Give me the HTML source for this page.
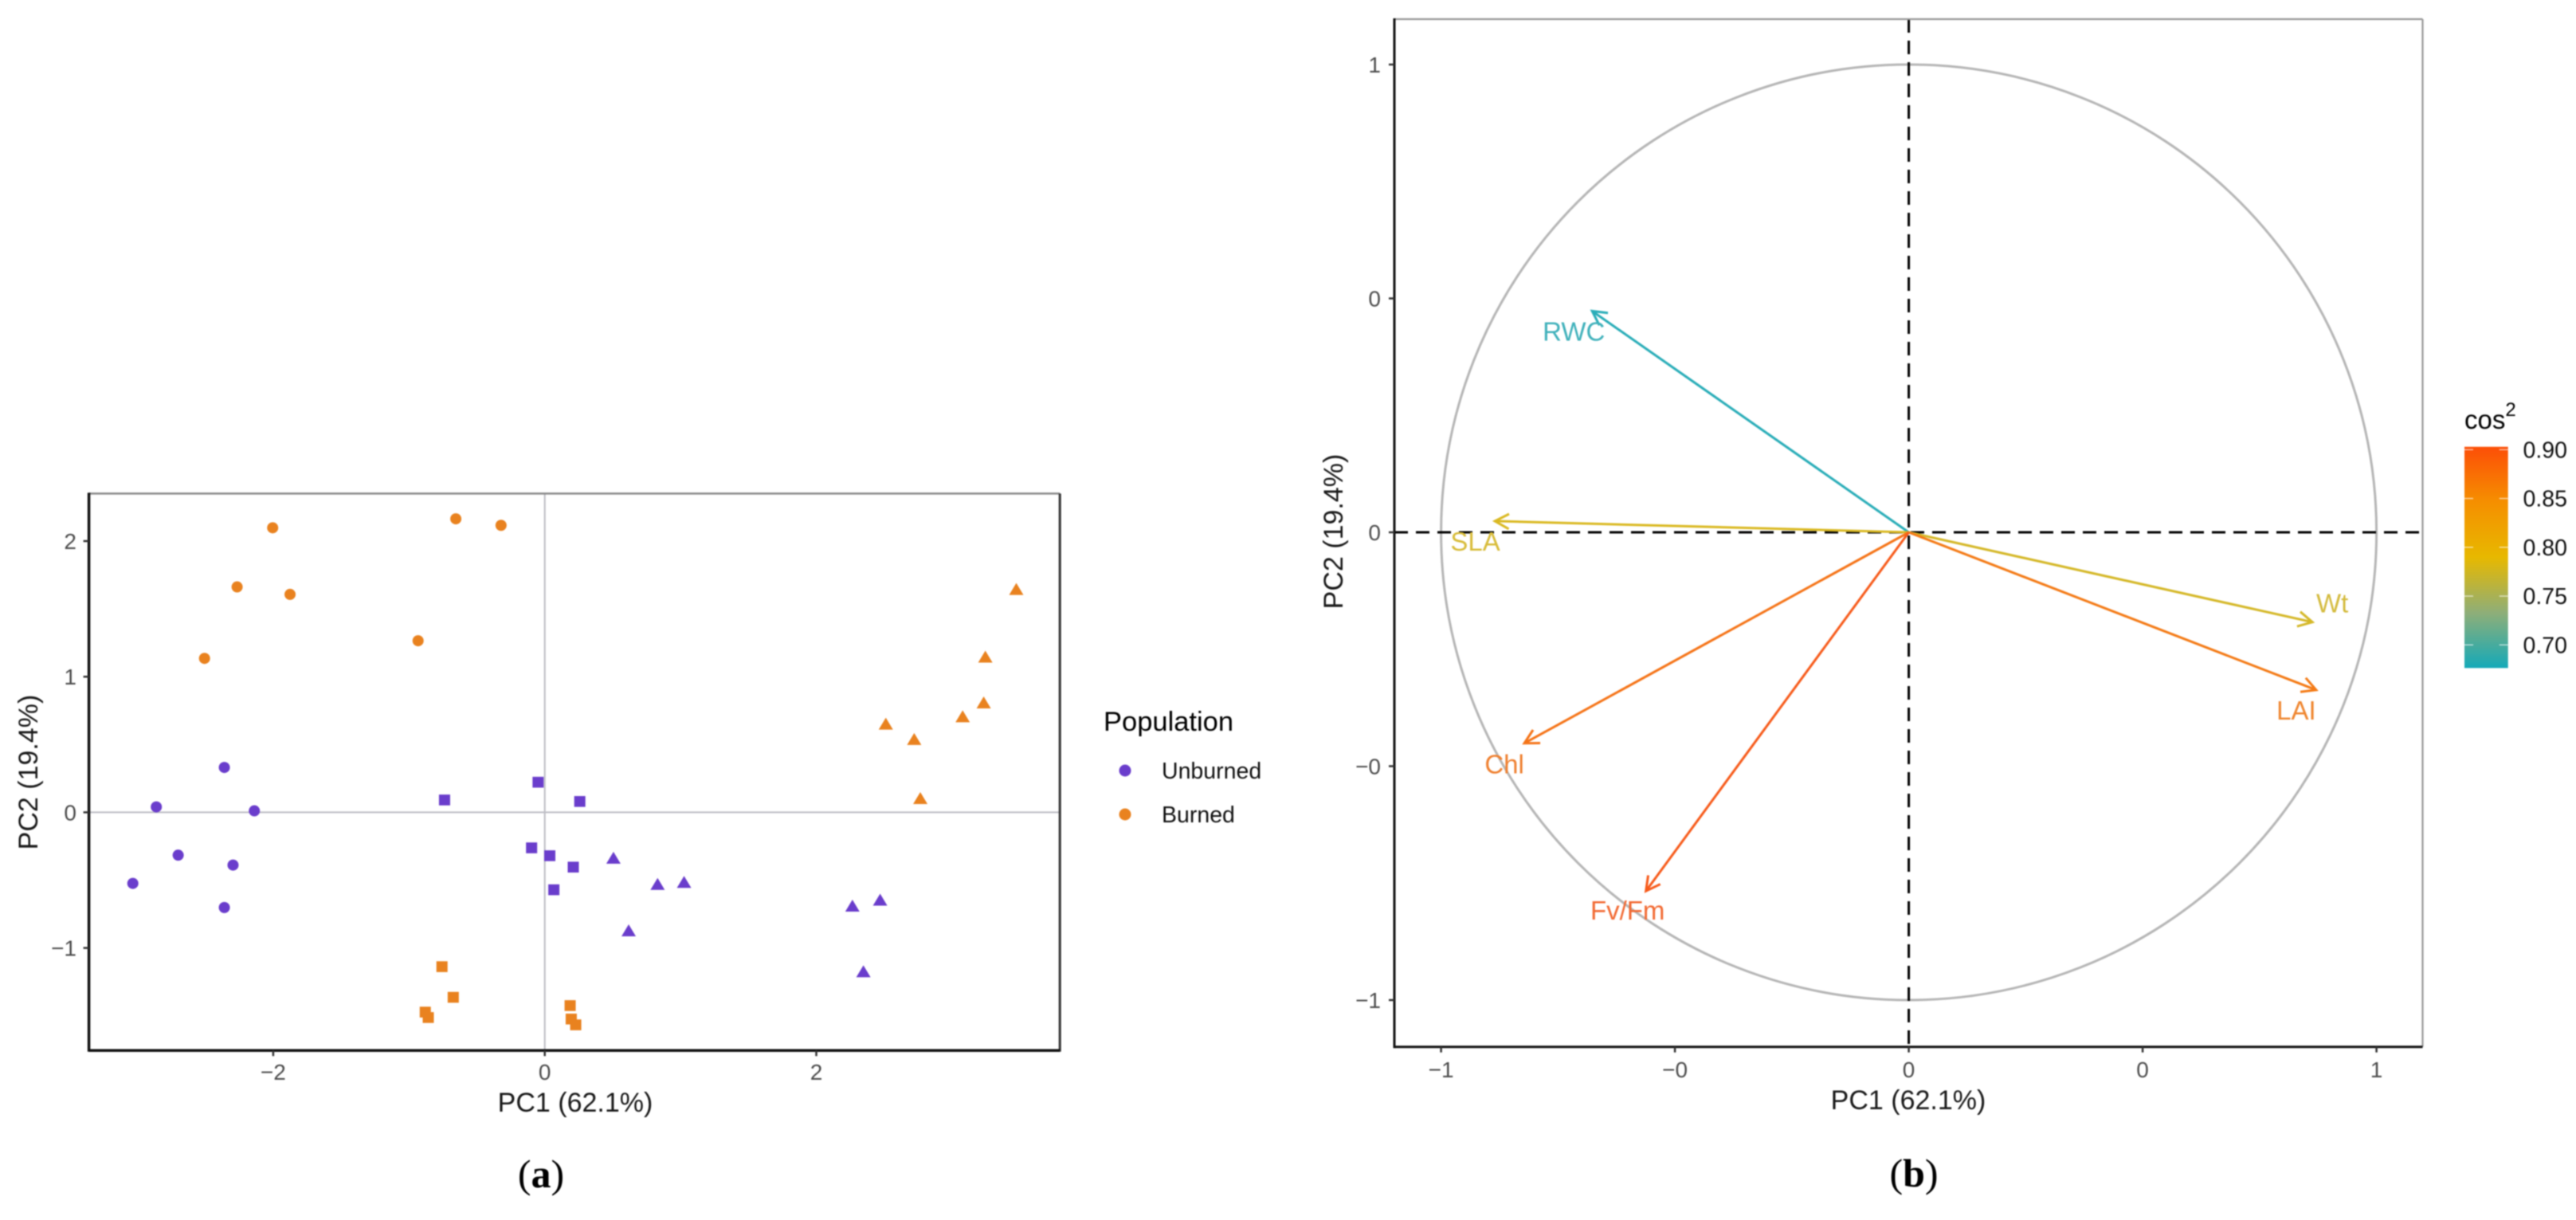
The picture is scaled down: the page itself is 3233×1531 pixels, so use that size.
<!DOCTYPE html>
<html lang="en">
<head>
<meta charset="utf-8">
<title>PCA individuals and variables plots</title>
<style>
html,body{margin:0;padding:0;background:#fff;}
body{width:3233px;height:1531px;overflow:hidden;}
svg{display:block;font-family:"Liberation Sans",sans-serif;filter:blur(0.7px);}
</style>
</head>
<body>
<svg id="figure" xmlns="http://www.w3.org/2000/svg" width="3233" height="1531" viewBox="0 0 3233 1531">
  <defs>
    <linearGradient id="cosGradient" x1="0" y1="1" x2="0" y2="0">
      <stop offset="0" stop-color="#14a9b8"/>
      <stop offset="0.25" stop-color="#8eae78"/>
      <stop offset="0.5" stop-color="#e7b800"/>
      <stop offset="0.75" stop-color="#f58f00"/>
      <stop offset="1" stop-color="#fc4e07"/>
    </linearGradient>
  </defs>
  <rect x="0" y="0" width="3233" height="1531" fill="#ffffff"/>

  <g id="panelA"></g>
  <text x="722" y="1395" font-size="34" fill="#1a1a1a" text-anchor="middle">PC1 (62.1%)</text>
  <text transform="translate(47 969) rotate(-90)" font-size="34" fill="#1a1a1a" text-anchor="middle">PC2 (19.4%)</text>
  <text x="679" y="1490" font-size="50" fill="#000" text-anchor="middle" font-family="Liberation Serif, serif">(<tspan font-weight="bold">a</tspan>)</text>

  <g>
    <text x="1385" y="917" font-size="34.5" fill="#000">Population</text>
    <circle cx="1412" cy="967" r="7.5" fill="#6a3dcc"/>
    <text x="1458" y="977" font-size="28.5" fill="#111">Unburned</text>
    <circle cx="1412" cy="1022" r="7.5" fill="#e9821f"/>
    <text x="1458" y="1032" font-size="28.5" fill="#111">Burned</text>
  </g>

  <g id="panelB"></g>
  <text x="2395" y="1392" font-size="34" fill="#1a1a1a" text-anchor="middle">PC1 (62.1%)</text>
  <text transform="translate(1685 667) rotate(-90)" font-size="34" fill="#1a1a1a" text-anchor="middle">PC2 (19.4%)</text>
  <text x="2402" y="1489" font-size="50" fill="#000" text-anchor="middle" font-family="Liberation Serif, serif">(<tspan font-weight="bold">b</tspan>)</text>

  <g>
    <text x="3093" y="538" font-size="33" fill="#000">cos<tspan font-size="24" dy="-16">2</tspan></text>
    <rect x="3093" y="560.7" width="54.7" height="277.6" fill="url(#cosGradient)"/>
    <g id="colorbarTicks"></g>
  </g>
</svg>

<script>
// ---- Panel (a) data: individuals on PC1 / PC2 ----
const scatterXTicks = [-2, 0, 2];
const scatterYTicks = [-1, 0, 1, 2];
const scatterXTickLabels = ['\u22122', '0', '2'];
const scatterYTickLabels = ['\u22121', '0', '1', '2'];

const unburnedCirclePc1 = [-2.36, -2.861, -2.139, -2.70, -2.296, -3.034, -2.36];
const unburnedCirclePc2 = [0.331, 0.04, 0.011, -0.316, -0.389, -0.524, -0.702];
const unburnedSquarePc1 = [-0.049, -0.738, 0.258, -0.097, 0.037, 0.21, 0.067];
const unburnedSquarePc2 = [0.222, 0.091, 0.08, -0.262, -0.32, -0.404, -0.571];
const unburnedTrianglePc1 = [0.506, 0.831, 1.026, 0.618, 2.266, 2.47, 2.347];
const unburnedTrianglePc2 = [-0.338, -0.531, -0.516, -0.873, -0.691, -0.647, -1.175];
const burnedCirclePc1 = [-2.004, -0.655, -0.322, -2.266, -1.876, -0.933, -2.506];
const burnedCirclePc2 = [2.098, 2.164, 2.116, 1.662, 1.607, 1.265, 1.135];
const burnedSquarePc1 = [-0.757, -0.674, -0.88, -0.858, 0.187, 0.195, 0.228];
const burnedSquarePc2 = [-1.138, -1.364, -1.473, -1.513, -1.425, -1.524, -1.567];
const burnedTrianglePc1 = [2.512, 2.721, 2.766, 3.078, 3.233, 3.245, 3.473];
const burnedTrianglePc2 = [0.651, 0.538, 0.102, 0.705, 0.807, 1.145, 1.644];

// ---- Panel (b) data: variable loadings ----
const variableNames = ['RWC', 'SLA', 'Wt', 'LAI', 'Chl', 'Fv/Fm'];
const variablePc1 = [-0.677, -0.885, 0.863, 0.871, -0.822, -0.562];
const variablePc2 = [0.473, 0.024, -0.192, -0.337, -0.451, -0.767];
const variableCos2 = [0.68, 0.783, 0.78, 0.872, 0.879, 0.904];
const varXTicks = [-1, -0.5, 0, 0.5, 1];
const varYTicks = [-1, -0.5, 0, 0.5, 1];
const varXTickLabels = ['\u22121', '\u22120', '0', '0', '1'];
const varYTickLabels = ['\u22121', '\u22120', '0', '0', '1'];
const colorbarTicks = [0.70, 0.75, 0.80, 0.85, 0.90];
const colorbarTickLabels = ['0.70', '0.75', '0.80', '0.85', '0.90'];

const SVG_NS = 'http://www.w3.org/2000/svg';
function make(parent, tag, attrs, text) {
  const el = document.createElementNS(SVG_NS, tag);
  for (const k in attrs) el.setAttribute(k, attrs[k]);
  if (text !== undefined) el.textContent = text;
  parent.appendChild(el);
  return el;
}

// ---- Panel (a) ----
const panelA = document.getElementById('panelA');
const aBox = { left: 111.6, right: 1330.2, top: 619.4, bottom: 1318.3 };
function ax(v) { return 683.7 + v * 170.4; }
function ay(v) { return 1019.4 - v * 170.2; }

const aHline = make(panelA, 'line', { x1: aBox.left, x2: aBox.right, y1: ay(0), y2: ay(0), stroke: '#bdbdc4', 'stroke-width': 2 });


const aVline = make(panelA, 'line', { x1: ax(0), x2: ax(0), y1: aBox.top, y2: aBox.bottom, stroke: '#bdbdc4', 'stroke-width': 2 });



function drawCircles(xs, ys, color, name) {
  xs.forEach(function (v, i) {
    const m = make(panelA, 'circle', { cx: ax(v), cy: ay(ys[i]), r: 7, fill: color });
    
    
  });
}
function drawSquares(xs, ys, color, name) {
  xs.forEach(function (v, i) {
    const m = make(panelA, 'rect', { x: ax(v) - 7, y: ay(ys[i]) - 6.8, width: 14, height: 13.6, fill: color });
    
    
  });
}
function drawTriangles(xs, ys, color, name) {
  xs.forEach(function (v, i) {
    const cx = ax(v), cy = ay(ys[i]);
    const pts = (cx - 9) + ',' + (cy + 7) + ' ' + (cx + 9) + ',' + (cy + 7) + ' ' + cx + ',' + (cy - 8);
    const m = make(panelA, 'polygon', { points: pts, fill: color });
    
    
  });
}
const PURPLE = '#6a3dcc', ORANGE = '#e9821f';
drawCircles(unburnedCirclePc1, unburnedCirclePc2, PURPLE, 'point-unburned-circle');
drawSquares(unburnedSquarePc1, unburnedSquarePc2, PURPLE, 'point-unburned-square');
drawTriangles(unburnedTrianglePc1, unburnedTrianglePc2, PURPLE, 'point-unburned-triangle');
drawCircles(burnedCirclePc1, burnedCirclePc2, ORANGE, 'point-burned-circle');
drawSquares(burnedSquarePc1, burnedSquarePc2, ORANGE, 'point-burned-square');
drawTriangles(burnedTrianglePc1, burnedTrianglePc2, ORANGE, 'point-burned-triangle');

const aTop = make(panelA, 'line', { x1: aBox.left, x2: aBox.right, y1: aBox.top, y2: aBox.top, stroke: '#8a8a8a', 'stroke-width': 2.5 });


const aRight = make(panelA, 'line', { x1: aBox.right, x2: aBox.right, y1: aBox.top, y2: aBox.bottom + 1.5, stroke: '#333', 'stroke-width': 3 });


const aLeft = make(panelA, 'line', { x1: aBox.left, x2: aBox.left, y1: aBox.top - 1, y2: aBox.bottom + 1.5, stroke: '#111', 'stroke-width': 3.5 });


const aBottom = make(panelA, 'line', { x1: aBox.left, x2: aBox.right, y1: aBox.bottom, y2: aBox.bottom, stroke: '#111', 'stroke-width': 3.5 });



scatterXTicks.forEach(function (v, i) {
  const t = make(panelA, 'line', { x1: ax(v), x2: ax(v), y1: aBox.bottom, y2: aBox.bottom + 7, stroke: '#333', 'stroke-width': 2.5 });
  
  
  const l = make(panelA, 'text', { x: ax(v), y: 1355, 'font-size': 28, fill: '#4d4d4d', 'text-anchor': 'middle' }, scatterXTickLabels[i]);
  
  
});
scatterYTicks.forEach(function (v, i) {
  const t = make(panelA, 'line', { x1: aBox.left - 7, x2: aBox.left, y1: ay(v), y2: ay(v), stroke: '#333', 'stroke-width': 2.5 });
  
  
  const l = make(panelA, 'text', { x: 96, y: ay(v) + 10, 'font-size': 28, fill: '#4d4d4d', 'text-anchor': 'end' }, scatterYTickLabels[i]);
  
  
});

// ---- Panel (b) ----
const panelB = document.getElementById('panelB');
const bBox = { left: 1750, right: 3040.5, top: 24, bottom: 1313.7 };
function bx(v) { return 2395.6 + v * 587; }
function by(v) { return 668 - v * 587; }

const unitCircle = make(panelB, 'circle', { cx: bx(0), cy: by(0), r: 587, fill: 'none', stroke: '#b6b6b6', 'stroke-width': 3 });



const bHline = make(panelB, 'line', { x1: bBox.left, x2: bBox.right, y1: by(0), y2: by(0), stroke: '#000', 'stroke-width': 3, 'stroke-dasharray': '17 10' });


const bVline = make(panelB, 'line', { x1: bx(0), x2: bx(0), y1: bBox.top, y2: bBox.bottom, stroke: '#000', 'stroke-width': 3, 'stroke-dasharray': '17 10' });



function hex(c) { return [parseInt(c.slice(1, 3), 16), parseInt(c.slice(3, 5), 16), parseInt(c.slice(5, 7), 16)]; }
const cbMin = 0.678, cbMax = 0.903;
const cbStopColors = ['#14a9b8', '#8eae78', '#e7b800', '#f58f00', '#fc4e07'];
function cosColor(v, mute) {
  const t = Math.max(0, Math.min(0.9999, (v - cbMin) / (cbMax - cbMin))) * (cbStopColors.length - 1);
  const k = Math.floor(t);
  const a = hex(cbStopColors[k]), b = hex(cbStopColors[k + 1]), u = t - k;
  return 'rgb(' + a.map(function (c, i) {
    const mixed = c + (b[i] - c) * u;
    return Math.round(mixed * (1 - mute) + 205 * mute);
  }).join(',') + ')';
}

const labelOffsetsX = [-23, -24.5, 25, -25, -25, -23];
const labelOffsetsY = [37, 37, -12, 37, 38, 36];
variableNames.forEach(function (name, i) {
  const x1 = bx(variablePc1[i]), y1 = by(variablePc2[i]);
  const x0 = bx(0), y0 = by(0);
  const color = cosColor(variableCos2[i], 0.1);
  const ang = Math.atan2(y1 - y0, x1 - x0);
  const head = 20, spread = 0.49;
  const shaft = make(panelB, 'line', { x1: x0, y1: y0, x2: x1, y2: y1, stroke: color, 'stroke-width': 3 });
  
  
  const hp = (x1 - head * Math.cos(ang - spread)) + ',' + (y1 - head * Math.sin(ang - spread)) + ' ' + x1 + ',' + y1 + ' ' + (x1 - head * Math.cos(ang + spread)) + ',' + (y1 - head * Math.sin(ang + spread));
  const arrowHead = make(panelB, 'polyline', { points: hp, fill: 'none', stroke: color, 'stroke-width': 3 });
  
  
  const lab = make(panelB, 'text', { x: x1 + labelOffsetsX[i], y: y1 + labelOffsetsY[i], 'font-size': 33, fill: cosColor(variableCos2[i], 0.22), 'text-anchor': 'middle' }, name);
  
  
});

const bTop = make(panelB, 'line', { x1: bBox.left, x2: bBox.right, y1: bBox.top, y2: bBox.top, stroke: '#999', 'stroke-width': 2.2 });


const bRight = make(panelB, 'line', { x1: bBox.right, x2: bBox.right, y1: bBox.top, y2: bBox.bottom, stroke: '#999', 'stroke-width': 2.2 });


const bLeft = make(panelB, 'line', { x1: bBox.left, x2: bBox.left, y1: bBox.top - 1, y2: bBox.bottom + 1.5, stroke: '#111', 'stroke-width': 3 });


const bBottom = make(panelB, 'line', { x1: bBox.left, x2: bBox.right, y1: bBox.bottom, y2: bBox.bottom, stroke: '#111', 'stroke-width': 3 });



varXTicks.forEach(function (v, i) {
  const t = make(panelB, 'line', { x1: bx(v), x2: bx(v), y1: bBox.bottom, y2: bBox.bottom + 7, stroke: '#333', 'stroke-width': 2.5 });
  
  
  const l = make(panelB, 'text', { x: bx(v), y: 1352, 'font-size': 28, fill: '#4d4d4d', 'text-anchor': 'middle' }, varXTickLabels[i]);
  
  
});
varYTicks.forEach(function (v, i) {
  const t = make(panelB, 'line', { x1: bBox.left - 7, x2: bBox.left, y1: by(v), y2: by(v), stroke: '#333', 'stroke-width': 2.5 });
  
  
  const l = make(panelB, 'text', { x: 1733, y: by(v) + 10, 'font-size': 28, fill: '#4d4d4d', 'text-anchor': 'end' }, varYTickLabels[i]);
  
  
});

// ---- Colour bar ticks ----
const cbGroup = document.getElementById('colorbarTicks');
function cbY(v) { return 564.3 + (0.90 - v) * (245 / 0.20); }
colorbarTicks.forEach(function (v, i) {
  const y = cbY(v);
  const tl = make(cbGroup, 'line', { x1: 3093, x2: 3104, y1: y, y2: y, stroke: '#fff', 'stroke-opacity': 0.6, 'stroke-width': 1.5 });
  
  
  const tr = make(cbGroup, 'line', { x1: 3136.7, x2: 3147.7, y1: y, y2: y, stroke: '#fff', 'stroke-opacity': 0.6, 'stroke-width': 1.5 });
  
  
  const l = make(cbGroup, 'text', { x: 3166.5, y: y + 10, 'font-size': 28.5, fill: '#111' }, colorbarTickLabels[i]);
  
  
});
</script>
</body>
</html>
